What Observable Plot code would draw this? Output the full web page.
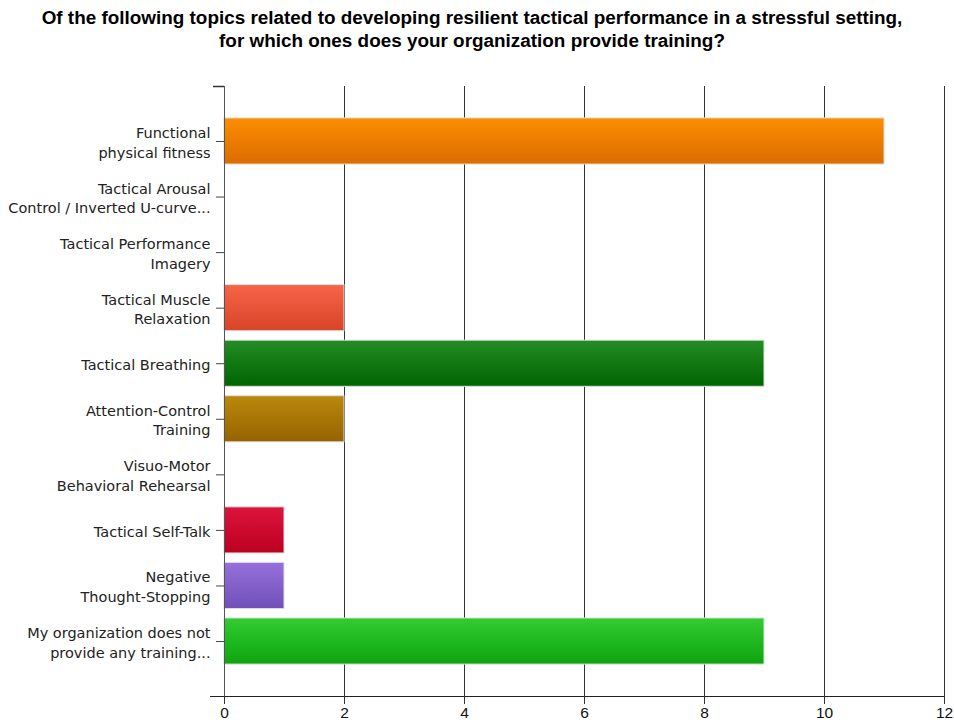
<!DOCTYPE html>
<html><head><meta charset="utf-8">
<script src="https://cdn.jsdelivr.net/npm/d3@7"></script>
<script src="https://cdn.jsdelivr.net/npm/@observablehq/plot@0.6"></script>
<style>
body{margin:0;background:#fff;}
#title{height:60px;box-sizing:border-box;padding-top:6px;padding-right:10px;text-align:center;font:bold 18.9px "Liberation Sans",Arial,sans-serif;line-height:23px;color:#000;}
#chart svg{display:block;}
</style></head><body>
<div id="title">Of the following topics related to developing resilient tactical performance in a stressful setting,<br>for which ones does your organization provide training?</div>
<div id="chart"></div>
<script>
const categories = [
  "Functional\nphysical fitness",
  "Tactical Arousal\nControl / Inverted U-curve...",
  "Tactical Performance\nImagery",
  "Tactical Muscle\nRelaxation",
  "Tactical Breathing",
  "Attention-Control\nTraining",
  "Visuo-Motor\nBehavioral Rehearsal",
  "Tactical Self-Talk",
  "Negative\nThought-Stopping",
  "My organization does not\nprovide any training..."
];
const values = [11, 0, 0, 2, 9, 2, 0, 1, 1, 9];
const colorsTop = ["#fc8e02", "#cccccc", "#cccccc", "#f6644a", "#248d24", "#ba890c", "#cccccc", "#dc143c", "#9670dc", "#32cd32"];
const colorsBottom = ["#dc6c00", "#aaaaaa", "#aaaaaa", "#d84426", "#006400", "#966200", "#aaaaaa", "#bc0020", "#7050b8", "#0ea40e"];
const xTicks = [0, 2, 4, 6, 8, 10, 12];

const data = categories.map((c, i) => ({category: c, value: values[i], i}));

const defs = () => {
  const d = d3.create("svg:defs");
  categories.forEach((c, i) => {
    const g = d.append("linearGradient").attr("id", "g" + i)
      .attr("x1", 0).attr("y1", 0).attr("x2", 0).attr("y2", 1);
    g.append("stop").attr("offset", "0%").attr("stop-color", colorsTop[i]);
    g.append("stop").attr("offset", "100%").attr("stop-color", colorsBottom[i]);
  });
  return d.node();
};

// short tick at the top end of the category axis, placed from the x scale
const topTick = (index, scales, values, dims) => {
  const x0 = scales.x(0);
  return d3.create("svg:line")
    .attr("x1", x0 - 11).attr("x2", x0)
    .attr("y1", dims.marginTop + 0.5).attr("y2", dims.marginTop + 0.5)
    .attr("stroke", "#333").attr("stroke-width", 1.5).node();
};

const chart = Plot.plot({
  width: 954,
  height: 665,
  marginLeft: 224,
  marginRight: 10,
  marginTop: 26,
  marginBottom: 29,
  x: {domain: [0, 12]},
  y: {domain: categories, range: [53.2, 608.8], paddingInner: 0.17, paddingOuter: 0.085, round: false},
  style: {fontFamily: "DejaVu Sans", fontSize: "14.5px", color: "#222", background: "#fff"},
  marks: [
    defs,
    Plot.gridX(xTicks, {stroke: "#333", strokeOpacity: 1}),
    Plot.barX(data, {x: "value", y: "category", fill: d => `url(#g${d.i})`, stroke: "#dedede", strokeWidth: 1}),
    Plot.frame({anchor: "left", stroke: "#555"}),
    Plot.frame({anchor: "bottom", stroke: "#222", insetLeft: -14}),
    topTick,
    Plot.axisX(xTicks, {tickSize: 8, tickPadding: 2, fontFamily: "Liberation Sans", fontSize: 15.5, stroke: "#333", fill: "#111", label: null}),
    Plot.axisY({tickSize: 8, tickPadding: 6, lineHeight: 1.35, stroke: "#444", fill: "#222", label: null})
  ]
});
document.getElementById("chart").appendChild(chart);
</script>
</body></html>
